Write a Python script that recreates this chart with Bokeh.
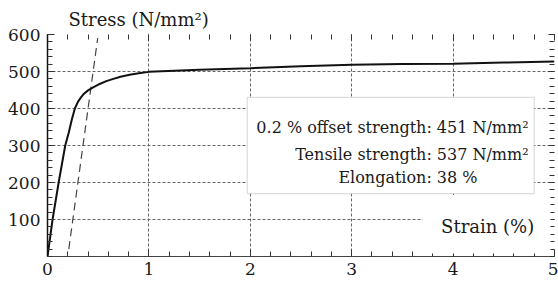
from bokeh.plotting import figure
from bokeh.models import LinearAxis, Label, BoxAnnotation, FixedTicker, Range1d
from bokeh.embed import file_html
from bokeh.resources import INLINE

# ---- data ----
strain = [0.0, 0.05, 0.11, 0.175, 0.21, 0.24, 0.27, 0.30, 0.33, 0.36, 0.40, 0.45,
          0.52, 0.58, 0.65, 0.72, 0.81, 0.90, 1.0,
          1.5, 2.0, 2.5, 3.0, 3.5, 4.0, 4.5, 5.0]
stress = [0, 100, 200, 300, 335, 370, 400, 418, 430, 440, 449, 457,
          467, 474, 480, 486, 491, 495, 499,
          505, 509, 514, 518, 520, 521, 524, 527]
offset_strain = [0.21, 0.495]
offset_stress = [20, 590]
x_ticks = [0, 1, 2, 3, 4, 5]
y_ticks = [100, 200, 300, 400, 500, 600]
info_left = ["0.2 % offset strength:", "Tensile strength:", "Elongation:"]
info_right = ["451 N/mm\u00b2", "537 N/mm\u00b2", "38 %"]
x_title = "Strain (%)"
y_title = "Stress (N/mm\u00b2)"

FONT = "DejaVu Serif"
INK = "#1a1a1a"

p = figure(width=558, height=286, x_range=Range1d(0, 5), y_range=Range1d(0, 600),
           output_backend="svg", toolbar_location=None,
           min_border_left=47, min_border_right=4, min_border_top=34, min_border_bottom=30,
           outline_line_color=None, background_fill_color="white")

p.title.text = y_title
p.title.text_font = FONT
p.title.text_font_size = "18px"
p.title.text_font_style = "normal"
p.title.text_color = INK
p.title.align = "left"
p.title.offset = 21
p.title.standoff = 10

x_minor = [i * 0.2 for i in range(26)]
y_minor = [i * 20 for i in range(31)]
p.xaxis.ticker = FixedTicker(ticks=x_ticks, minor_ticks=x_minor)
p.yaxis.ticker = FixedTicker(ticks=y_ticks, minor_ticks=y_minor)
p.xgrid.ticker = FixedTicker(ticks=x_ticks)
p.ygrid.ticker = FixedTicker(ticks=y_ticks)

for ax in (p.xaxis[0], p.yaxis[0]):
    ax.major_tick_in = 7
    ax.major_tick_out = 0
    ax.minor_tick_in = 5
    ax.minor_tick_out = 0
    ax.major_label_text_font = FONT
    ax.major_label_text_font_size = "17px"
    ax.major_label_text_color = INK
    ax.major_tick_line_color = "#333333"
    ax.minor_tick_line_color = "#333333"
p.yaxis.axis_line_color = "#111111"
p.yaxis.axis_line_width = 1.5
p.yaxis.major_label_standoff = 7
p.xaxis.axis_line_color = "#444444"
p.xaxis.axis_line_width = 1.2
p.xaxis.major_label_standoff = 6

top = LinearAxis(ticker=FixedTicker(ticks=x_ticks, minor_ticks=x_minor),
                 major_label_text_color=None, major_label_text_font_size="1px",
                 major_label_standoff=0,
                 axis_line_color=None, major_tick_in=6, major_tick_out=0,
                 minor_tick_in=5, minor_tick_out=0,
                 major_tick_line_color="#333333", minor_tick_line_color="#333333")
right = LinearAxis(ticker=FixedTicker(ticks=y_ticks, minor_ticks=y_minor),
                   major_label_text_color=None, major_label_text_font_size="1px",
                   major_label_standoff=0,
                   axis_line_color=None, major_tick_in=6, major_tick_out=0,
                   minor_tick_in=5, minor_tick_out=0,
                   major_tick_line_color="#333333", minor_tick_line_color="#333333")
p.add_layout(top, "above")
p.add_layout(right, "right")

for g in (p.xgrid[0], p.ygrid[0]):
    g.grid_line_color = "#666666"
    g.grid_line_dash = "3 2"
    g.grid_line_width = 1

# curves
p.line(offset_strain, offset_stress, line_color="#444444", line_width=1.2, line_dash="8 5")
p.line(strain, stress, line_color="#111111", line_width=2)

# info box
p.add_layout(BoxAnnotation(left=1.97, right=4.80, bottom=170, top=430,
                           fill_color="white", fill_alpha=1.0,
                           line_color="#8a8a8a", line_width=1.2))
# white background behind the axis title
p.add_layout(BoxAnnotation(left=3.70, right=4.96, bottom=8, top=166,
                           fill_color="white", fill_alpha=1.0, line_color=None))

ys = [350, 277, 213]
for i in range(3):
    p.add_layout(Label(x=3.79, y=ys[i], text=info_left[i], text_align="right",
                       text_baseline="alphabetic", text_font=FONT,
                       text_font_size="16px", text_color=INK))
    p.add_layout(Label(x=3.79, y=ys[i], x_offset=5, text=info_right[i], text_align="left",
                       text_baseline="alphabetic", text_font=FONT,
                       text_font_size="16px", text_color=INK))

p.add_layout(Label(x=4.80, y=80, text=x_title, text_align="right",
                   text_baseline="alphabetic", text_font=FONT,
                   text_font_size="18px", text_color=INK))

open("out.html", "w").write(file_html(p, INLINE))
